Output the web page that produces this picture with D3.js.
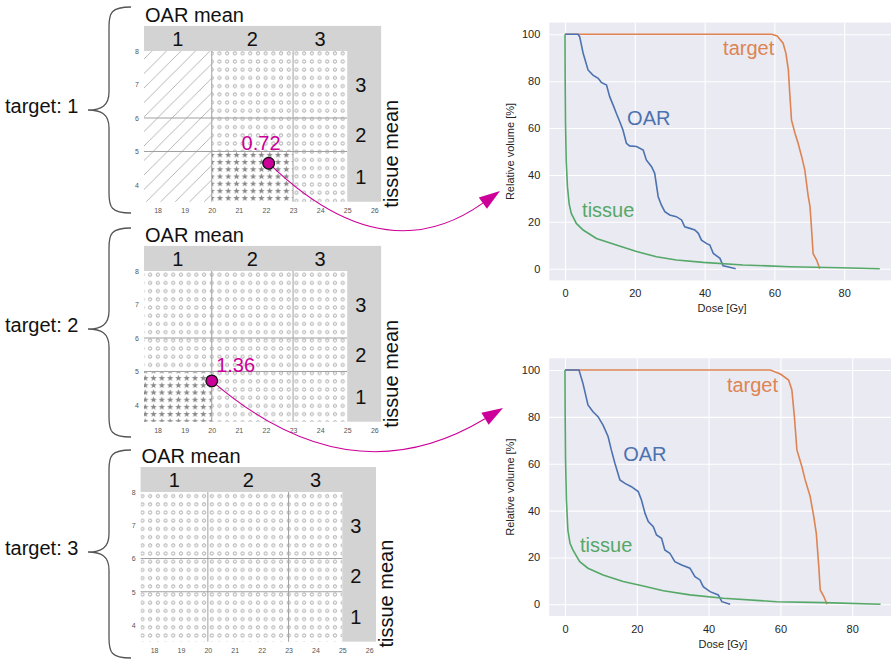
<!DOCTYPE html>
<html>
<head>
<meta charset="utf-8">
<script src="https://cdn.jsdelivr.net/npm/d3@7"></script>
<style>
  body { margin: 0; background: #fff; }
  text { font-family: "Liberation Sans", Arial, sans-serif; }
</style>
</head>
<body>
<svg id="fig" width="891" height="661"></svg>
<script>
// ---- left panels: bins of OAR mean (x) and tissue mean (y)
var oarEdges = [17.5, 20, 23, 25];
var tissueEdges = [3.5, 5, 6, 8];
var binLabels = ["1", "2", "3"];
var oarTicks = [18, 19, 20, 21, 22, 23, 24, 25, 26];
var tissueTicks = [4, 5, 6, 7, 8];
var targetNames = ["target: 1", "target: 2", "target: 3"];

// fill of each cell, row = tissue bin (1 at bottom), col = OAR bin
var target1Cells = [["hatch", "star", "circle"], ["hatch", "circle", "circle"], ["hatch", "circle", "circle"]];
var target2Cells = [["star", "circle", "circle"], ["circle", "circle", "circle"], ["circle", "circle", "circle"]];
var target3Cells = [["circle", "circle", "circle"], ["circle", "circle", "circle"], ["circle", "circle", "circle"]];

// highlighted plans
var markerOar = [22.1, 20.0];
var markerTissue = [4.65, 4.72];
var markerText = ["0.72", "1.36"];
var markerTextOar = [21.82, 20.88];
var markerTextTissue = [5.03, 5.0];

// ---- right panels: dose volume histograms [dose Gy, volume %]
var doseTicks = [0, 20, 40, 60, 80];
var volTicks = [0, 20, 40, 60, 80, 100];

var dvh1Target = [[0,100],[59.2,100],[60.8,99.3],[62.5,96.2],[63.3,91.9],[64,84.8],[64.4,74.8],[64.9,63.4],[65.9,57.8],[66.8,53.5],[67.8,47.9],[68.7,42.2],[69.7,30.8],[70.2,26.6],[70.6,18],[71.1,6.4],[72.1,3.7],[73,0]];
var dvh1Oar = [[0,100],[3.7,100],[4.2,99],[5.2,91.9],[6.6,84.8],[8,82.6],[9.5,81.2],[10.4,79.5],[11.9,78.4],[12.8,73.4],[13.8,69.8],[14.7,66.3],[15.7,62.7],[16.6,59.2],[17.6,53.5],[18.5,52.4],[20.5,52.1],[22.4,50.6],[23.3,46.4],[24.8,43.5],[25.7,40.7],[26.7,30.7],[27.6,27.2],[28.6,24.3],[30,22.9],[31.9,22.2],[33.4,20.8],[34.3,17.9],[35.8,17.2],[37.2,16.5],[38.2,15.1],[39.1,12.2],[40.5,10.8],[41.5,10.1],[42.5,6.5],[44.4,4.4],[45.3,1.2],[46.3,0.9],[48.9,0]];
var dvh1Tissue = [[0,100],[0.05,80],[0.15,62],[0.35,46],[0.7,35],[1.2,27.5],[1.8,23.6],[3.25,19.3],[5.2,16.5],[9,12.9],[14.7,10.1],[20.5,7.3],[26.2,5.1],[31.9,3.7],[39.6,2.7],[51,1.6],[64.4,0.85],[78.8,0.4],[90.2,0]];

var dvh2Target = [[0,100],[57.2,100],[60,98.3],[62.3,95.7],[63.2,91.5],[63.9,80.1],[64.6,65.9],[66,58.7],[66.9,53.1],[68.3,46],[69.3,37.4],[70,30.3],[70.7,16.1],[71.1,6.1],[72.1,3.3],[73,0]];
var dvh2Oar = [[0,100],[3.9,100],[5,94.3],[6.4,85.1],[7.8,82.2],[9.2,80.1],[10.6,76.5],[12,71.6],[12.9,65.9],[13.9,60.2],[15.3,53.1],[16.7,51.6],[18.5,50.2],[20.4,48.1],[21.3,44.5],[22.3,38.8],[23.2,35.3],[24.6,33.1],[25.5,29.6],[26.9,28.2],[27.8,23.2],[29.2,21.8],[30.6,18.2],[32.5,16.8],[34.8,15.4],[36.2,11.8],[37.6,10.4],[38.5,7.5],[40.4,5.4],[42.7,4],[43.7,1.1],[46,0]];
var dvh2Tissue = [[0,100],[0.05,80],[0.15,62],[0.4,44.5],[0.8,31.7],[1.4,26],[2.2,23.2],[4.1,18.2],[6.4,15.4],[10.6,12.5],[16.2,9.7],[21.8,7.8],[27.4,5.8],[34.8,4],[44.1,2.6],[59,1.1],[72.1,0.7],[87.9,0]];

var seriesNames = ["target", "OAR", "tissue"];
var seriesColors = ["#dd8452", "#4c72b0", "#55a868"];
var dvh1LabelDose = [45.3, 17.8, 4.9];
var dvh1LabelVol = [91.2, 61.3, 22];
var dvh2LabelDose = [45.1, 16.2, 4.2];
var dvh2LabelVol = [90.6, 61.2, 22.3];

var magenta = "#cc0099";
var svg = d3.select("#fig");
svg.append("rect").attr("width", 891).attr("height", 661).attr("fill", "#fff");

// ---- hatch patterns (tiled in page space so they run on across cells)
var defs = svg.append("defs");
var pc = defs.append("pattern").attr("id", "pat-circle").attr("patternUnits", "userSpaceOnUse")
  .attr("width", 7.7).attr("height", 8.2);
pc.append("circle").attr("cx", 3.85).attr("cy", 4.1).attr("r", 1.6)
  .attr("fill", "none").attr("stroke", "#969696").attr("stroke-width", 0.8);

function starPath(cx, cy, R, r){
  var pts = [];
  for (var k = 0; k < 10; k++){
    var a = -Math.PI / 2 + k * Math.PI / 5, rr = k % 2 ? r : R;
    pts.push([cx + rr * Math.cos(a), cy + rr * Math.sin(a)]);
  }
  return "M" + pts.join("L") + "Z";
}
var ps = defs.append("pattern").attr("id", "pat-star").attr("patternUnits", "userSpaceOnUse")
  .attr("width", 8.3).attr("height", 7.2);
ps.append("path").attr("d", starPath(4.15, 3.8, 3.4, 1.45)).attr("fill", "#8a8a8a");

var ph = defs.append("pattern").attr("id", "pat-hatch").attr("patternUnits", "userSpaceOnUse")
  .attr("width", 14.5).attr("height", 14.5);
ph.append("path").attr("d", "M0,14.5L14.5,0M-3.6,3.6L3.6,-3.6M10.9,18.1L18.1,10.9")
  .attr("stroke", "#a3a3a3").attr("stroke-width", 0.8);

// ---- one "target" panel
function drawPanel(cells, name, px){
  var x = d3.scaleLinear().domain([17.5, 26.25]).range([px.left, px.left + 8.75 * px.sx]);
  var y = d3.scaleLinear().domain([3.5, 8.75]).range([px.y8 + 4.5 * px.sy, px.y8 - 0.75 * px.sy]);
  var g = svg.append("g");

  var cellData = [];
  cells.forEach(function(row, j){
    row.forEach(function(kind, i){ cellData.push({i: i, j: j, kind: kind}); });
  });
  g.selectAll("rect.cell").data(cellData).enter().append("rect")
    .attr("class", "cell")
    .attr("x", function(d){ return x(oarEdges[d.i]); })
    .attr("y", function(d){ return y(tissueEdges[d.j + 1]); })
    .attr("width", function(d){ return x(oarEdges[d.i + 1]) - x(oarEdges[d.i]); })
    .attr("height", function(d){ return y(tissueEdges[d.j]) - y(tissueEdges[d.j + 1]); })
    .attr("fill", function(d){ return "url(#pat-" + d.kind + ")"; });

  // bin borders
  g.selectAll("line.v").data(oarEdges.slice(1, 3)).enter().append("line")
    .attr("x1", x).attr("x2", x).attr("y1", y(8)).attr("y2", y(3.5))
    .attr("stroke", "#a0a0a0").attr("stroke-width", 1);
  g.selectAll("line.h").data(tissueEdges.slice(1, 3)).enter().append("line")
    .attr("y1", y).attr("y2", y).attr("x1", x(17.5)).attr("x2", x(25))
    .attr("stroke", "#a0a0a0").attr("stroke-width", 1);

  // gray label bands
  g.append("rect").attr("x", x(17.5)).attr("y", y(8.75))
    .attr("width", x(26.25) - x(17.5)).attr("height", y(8) - y(8.75)).attr("fill", "#d3d3d3");
  g.append("rect").attr("x", x(25)).attr("y", y(8))
    .attr("width", x(26.25) - x(25)).attr("height", y(3.5) - y(8)).attr("fill", "#d3d3d3");

  g.selectAll("text.col").data(binLabels).enter().append("text")
    .attr("x", function(d, i){ return x((oarEdges[i] + oarEdges[i + 1]) / 2); })
    .attr("y", y(8.375) + 7.5).attr("text-anchor", "middle")
    .attr("font-size", 20).attr("fill", "#111").text(function(d){ return d; });
  g.selectAll("text.row").data(binLabels).enter().append("text")
    .attr("x", x(25.5))
    .attr("y", function(d, i){ return y((tissueEdges[i] + tissueEdges[i + 1]) / 2) + 7.5; })
    .attr("text-anchor", "middle")
    .attr("font-size", 20).attr("fill", "#111").text(function(d){ return d; });

  // tiny tick labels
  var ax = g.append("g").attr("transform", "translate(0," + y(3.5) + ")")
    .call(d3.axisBottom(x).tickValues(oarTicks).tickFormat(d3.format("d")).tickSize(0).tickPadding(6));
  var ay = g.append("g").attr("transform", "translate(" + x(17.5) + ",0)")
    .call(d3.axisLeft(y).tickValues(tissueTicks).tickFormat(d3.format("d")).tickSize(0).tickPadding(5));
  [ax, ay].forEach(function(a){
    a.select(".domain").remove();
    a.selectAll("text").attr("font-size", 7).attr("fill", "#555")
      .attr("font-family", "Liberation Sans, Arial, sans-serif");
  });

  g.append("text").attr("x", x(17.5) + 1).attr("y", y(8.75) - 4)
    .attr("font-size", 20).attr("fill", "#111").text("OAR mean");
  g.append("text").attr("transform", "translate(" + (x(26.25) + 17) + "," + (y(3.5) - 48) + ") rotate(-90)")
    .attr("text-anchor", "middle").attr("font-size", 20).attr("fill", "#111").text("tissue mean");

  // curly brace and target label
  var xe = 131, xl = 109, xt = 88, yt = px.braceTip, y0 = px.braceTop, y1 = px.braceBottom;
  var b = "M" + xe + "," + y0 + " C" + (xl + 2) + "," + y0 + " " + xl + "," + (y0 + 6) + " " + xl + "," + (y0 + 20) +
    " L" + xl + "," + (yt - 18) + " C" + xl + "," + (yt - 4) + " " + (xl - 8) + "," + yt + " " + xt + "," + yt +
    " C" + (xl - 8) + "," + yt + " " + xl + "," + (yt + 4) + " " + xl + "," + (yt + 18) +
    " L" + xl + "," + (y1 - 20) + " C" + xl + "," + (y1 - 6) + " " + (xl + 2) + "," + y1 + " " + xe + "," + y1;
  g.append("path").attr("d", b).attr("fill", "none").attr("stroke", "#555").attr("stroke-width", 1.3);
  g.append("text").attr("x", 5).attr("y", yt + 3).attr("font-size", 20).attr("fill", "#111").text(name);

  return {x: x, y: y};
}

var panels = [
  drawPanel(target1Cells, targetNames[0], {left: 144, sx: 27.1, y8: 51, sy: 33.5, braceTop: 7, braceTip: 110, braceBottom: 213}),
  drawPanel(target2Cells, targetNames[1], {left: 144, sx: 27.1, y8: 271, sy: 33.5, braceTop: 228, braceTip: 329, braceBottom: 437}),
  drawPanel(target3Cells, targetNames[2], {left: 140.6, sx: 26.9, y8: 492, sy: 33.25, braceTop: 450, braceTip: 552, braceBottom: 658})
];

// ---- DVH charts (seaborn darkgrid look)
function drawDvh(series, labelDose, labelVol, px){
  var x = d3.scaleLinear().domain(px.xdom).range([px.left, px.right]);
  var y = d3.scaleLinear().domain([-5, 105]).range([px.bottom, px.top]);
  var g = svg.append("g");
  g.append("rect").attr("x", px.left).attr("y", px.top)
    .attr("width", px.right - px.left).attr("height", px.bottom - px.top).attr("fill", "#eaeaf2");

  var gx = g.append("g").attr("transform", "translate(0," + px.bottom + ")")
    .call(d3.axisBottom(x).tickValues(doseTicks).tickSize(-(px.bottom - px.top)).tickPadding(9));
  var gy = g.append("g").attr("transform", "translate(" + px.left + ",0)")
    .call(d3.axisLeft(y).tickValues(volTicks).tickSize(-(px.right - px.left)).tickPadding(9));
  [gx, gy].forEach(function(a){
    a.select(".domain").remove();
    a.selectAll("line").attr("stroke", "#fff").attr("stroke-width", 1.1);
    a.selectAll("text").attr("font-size", 11).attr("fill", "#262626")
      .attr("font-family", "Liberation Sans, Arial, sans-serif");
  });

  var line = d3.line().x(function(d){ return x(d[0]); }).y(function(d){ return y(d[1]); });
  g.selectAll("path.dvh").data(series).enter().append("path")
    .attr("d", line).attr("fill", "none")
    .attr("stroke", function(d, i){ return seriesColors[i]; }).attr("stroke-width", 1.6);

  g.selectAll("text.name").data(seriesNames).enter().append("text")
    .attr("x", function(d, i){ return x(labelDose[i]); })
    .attr("y", function(d, i){ return y(labelVol[i]); })
    .attr("font-size", 20).attr("fill", function(d, i){ return seriesColors[i]; })
    .text(function(d){ return d; });

  g.append("text").attr("x", (px.left + px.right) / 2).attr("y", px.bottom + 32)
    .attr("text-anchor", "middle").attr("font-size", 11).attr("fill", "#262626").text("Dose [Gy]");
  g.append("text").attr("transform", "translate(" + (px.left - 35.5) + "," + ((px.top + px.bottom) / 2) + ") rotate(-90)")
    .attr("text-anchor", "middle").attr("font-size", 11).attr("fill", "#262626").text("Relative volume [%]");
}

drawDvh([dvh1Target, dvh1Oar, dvh1Tissue], dvh1LabelDose, dvh1LabelVol,
  {xdom: [-4.5, 94.5], left: 549.3, right: 894.8, top: 22.6, bottom: 280.4});
drawDvh([dvh2Target, dvh2Oar, dvh2Tissue], dvh2LabelDose, dvh2LabelVol,
  {xdom: [-4.4, 92.4], left: 549.2, right: 896.7, top: 358.3, bottom: 616});

// ---- magenta markers and curved arrows to the DVHs
var arrowTips = [[500, 191], [503, 408]];
var arrowBend = [[383, 274], [350, 500]];
markerText.forEach(function(t, k){
  var p = panels[k];
  var sx = p.x(markerOar[k]), sy = p.y(markerTissue[k]);
  var tip = arrowTips[k], c = arrowBend[k];
  var ang = Math.atan2(tip[1] - c[1], tip[0] - c[0]);
  var L = 21, W = 7;
  var bx = tip[0] - L * Math.cos(ang), by = tip[1] - L * Math.sin(ang);
  svg.append("path")
    .attr("d", "M" + sx + "," + sy + " Q" + c[0] + "," + c[1] + " " + bx + "," + by)
    .attr("fill", "none").attr("stroke", magenta).attr("stroke-width", 1.1);
  svg.append("path")
    .attr("d", "M" + tip[0] + "," + tip[1] +
      "L" + (bx + W * Math.sin(ang)) + "," + (by - W * Math.cos(ang)) +
      "L" + (bx - W * Math.sin(ang)) + "," + (by + W * Math.cos(ang)) + "Z")
    .attr("fill", magenta);
  svg.append("circle").attr("cx", sx).attr("cy", sy).attr("r", 5.8)
    .attr("fill", magenta).attr("stroke", "#111").attr("stroke-width", 1.3);
  svg.append("text").attr("x", p.x(markerTextOar[k])).attr("y", p.y(markerTextTissue[k]))
    .attr("text-anchor", "middle").attr("font-size", 20).attr("fill", magenta).text(t);
});
</script>
</body>
</html>
